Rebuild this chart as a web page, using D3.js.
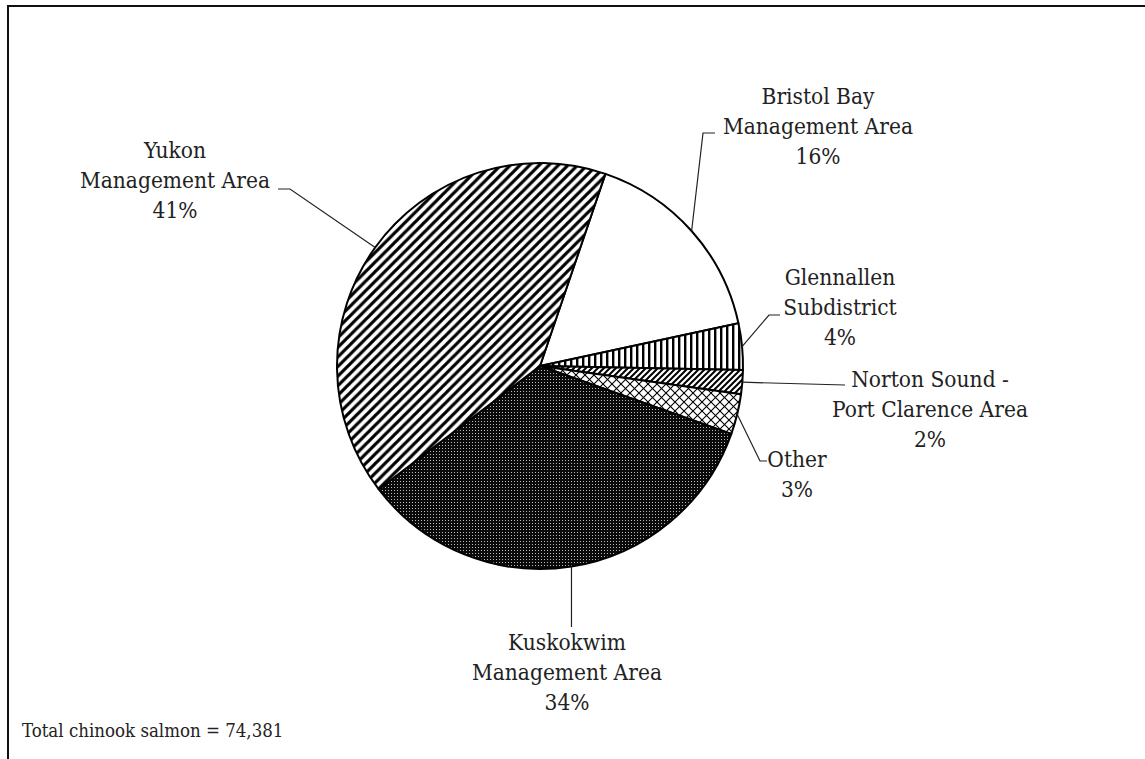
<!DOCTYPE html>
<html>
<head>
<meta charset="utf-8">
<script src="https://cdn.jsdelivr.net/npm/d3@7"></script>
<style>
  body { margin: 0; background: #fff; }
  svg { display: block; }
</style>
</head>
<body>
<svg width="1145" height="759"></svg>
<script>
'use strict';

// areas in clockwise order, starting at the Yukon / Bristol Bay boundary
const areas = ["Bristol Bay|Management Area", "Glennallen|Subdistrict", "Norton Sound -|Port Clarence Area",
  "Other", "Kuskokwim|Management Area", "Yukon|Management Area"];
const shares = [16.4, 3.7, 1.9, 3.2, 34.2, 40.6];   // percent of harvest
const fills = ["none", "vert", "diagFine", "cross", "dots", "diag"];
const totalNote = "Total chinook salmon = 74,381";

// label layout: text centre, first baseline, leader elbow(s)
const labelPos = [
  {x: 818, y: 104, pts: [[703, 133], [715, 133]]},
  {x: 840, y: 285, pts: [[769, 315], [780, 315]]},
  {x: 930, y: 387, pts: [[845, 385]]},
  {x: 797, y: 467, pts: [[760, 461], [767, 461]]},
  {x: 567, y: 650, pts: [[null, 627]]},
  {x: 175, y: 158, pts: [[290, 189], [278, 189]]}
];

const FONT = "'DejaVu Serif', 'Liberation Serif', 'Times New Roman', serif";
const svg = d3.select('svg');
const cx = 540, cy = 366, r = 203;
const lineH = 30;

/** patterns: tiles drawn directly, no transforms */
const defs = svg.append('defs');
function tile(id, s) {
  const p = defs.append('pattern').attr('id', id)
    .attr('patternUnits', 'userSpaceOnUse')
    .attr('width', s).attr('height', s);
  p.append('rect').attr('width', s).attr('height', s).attr('fill', '#fff');
  return p;
}
function slash(p, s, lw) {
  // "/" lines: bottom-left to top-right
  p.append('path')
    .attr('d', `M0,${s} L${s},0 M${-s / 2},${s / 2} L${s / 2},${-s / 2} M${s / 2},${s * 1.5} L${s * 1.5},${s / 2}`)
    .attr('stroke', '#000').attr('stroke-width', lw).attr('fill', 'none');
}
function backslash(p, s, lw) {
  p.append('path')
    .attr('d', `M0,0 L${s},${s} M${-s / 2},${s / 2} L${s / 2},${s * 1.5} M${s / 2},${-s / 2} L${s * 1.5},${s / 2}`)
    .attr('stroke', '#000').attr('stroke-width', lw).attr('fill', 'none');
}
slash(tile('diag', 9.6), 9.6, 3.2);
slash(tile('diagFine', 6), 6, 2);
const vert = tile('vert', 6);
vert.append('rect').attr('width', 2.4).attr('height', 6).attr('fill', '#000');
const cross = tile('cross', 9);
slash(cross, 9, 1.1);
backslash(cross, 9, 1.1);
const dots = defs.append('pattern').attr('id', 'dots')
  .attr('patternUnits', 'userSpaceOnUse').attr('width', 3).attr('height', 3);
dots.append('rect').attr('width', 3).attr('height', 3).attr('fill', '#0a0a0a');
dots.append('rect').attr('x', 1).attr('y', 1).attr('width', 1).attr('height', 1).attr('fill', '#bbb');

/** frame */
svg.append('path')
  .attr('d', `M8,759 L8,6 L1145,6`)
  .attr('fill', 'none').attr('stroke', '#111').attr('stroke-width', 2);

const start = 18.8 * Math.PI / 180;
const pie = d3.pie().sort(null).value(d => d.v)
  .startAngle(start).endAngle(start + 2 * Math.PI);
const data = areas.map((a, i) => ({name: a, v: shares[i], fill: fills[i], pos: labelPos[i]}));
const arcs = pie(data);

const arc = d3.arc().innerRadius(0).outerRadius(r);
const edge = d3.arc().innerRadius(r).outerRadius(r);

const g = svg.append('g').attr('transform', `translate(${cx},${cy})`);

g.selectAll('path.slice')
  .data(arcs).enter().append('path')
  .attr('class', 'slice')
  .attr('d', arc)
  .attr('fill', d => d.data.fill === 'none' ? '#fff' : `url(#${d.data.fill})`)
  .attr('stroke', '#000')
  .attr('stroke-width', 2)
  .attr('stroke-linejoin', 'round');

/** leaders */
const line = d3.line();
const leaders = svg.append('g');
arcs.forEach(d => {
  const [ex, ey] = edge.centroid(d);
  const p0 = [cx + ex, cy + ey];
  const pts = [p0].concat(d.data.pos.pts.map(([x, y]) => [x === null ? p0[0] : x, y]));
  leaders.append('path')
    .attr('d', line(pts))
    .attr('fill', 'none').attr('stroke', '#222').attr('stroke-width', 1.2);
});

/** labels */
const labels = svg.append('g');
arcs.forEach(d => {
  const linesTxt = d.data.name.split('|').concat([d3.format('.0f')(d.data.v) + '%']);
  const t = labels.append('text')
    .attr('text-anchor', 'middle')
    .style('font-family', FONT)
    .style('font-stretch', 'condensed')
    .style('font-size', '22.5px')
    .attr('fill', '#222');
  linesTxt.forEach((s, i) => {
    t.append('tspan')
      .attr('x', d.data.pos.x)
      .attr('y', d.data.pos.y + i * lineH)
      .text(s);
  });
});

svg.append('text')
  .attr('x', 22).attr('y', 737)
  .style('font-family', FONT)
  .style('font-stretch', 'condensed')
  .style('font-size', '18.5px')
  .attr('fill', '#222')
  .text(totalNote);
</script>
</body>
</html>
